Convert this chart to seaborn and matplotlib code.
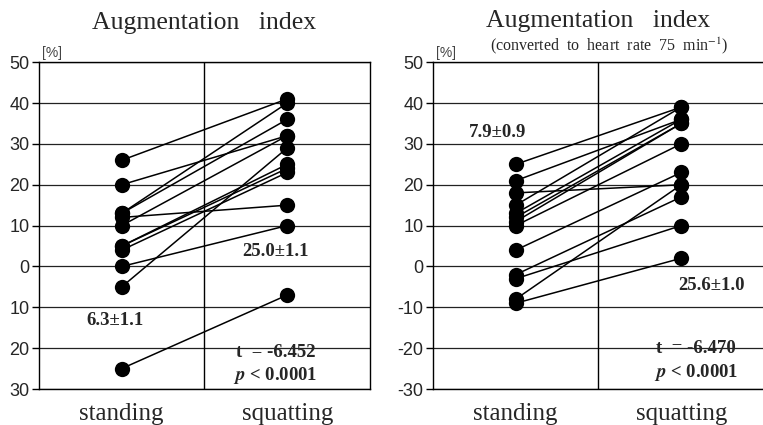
import matplotlib
matplotlib.use('Agg')
import matplotlib.pyplot as plt
import numpy as np
import pandas as pd
import seaborn as sns

# paired values (standing -> squatting)
stand_left = [26, 20, 13, 13, 12, 10, 5, 5, 4, 0, -5, -25]
squat_left = [41, 32, 40, 36, 15, 32, 25, 24, 23, 10, 29, -7]
stand_right = [25, 21, 18, 15, 13, 12, 11, 10, 4, -2, -3, -8, -9]
squat_right = [39, 36, 20, 39, 36, 35, 35, 30, 23, 17, 10, 20, 2]

categories = ['standing', 'squatting']
yticks = [50, 40, 30, 20, 10, 0, -10, -20, -30]
ylabels_left = ['50', '40', '30', '20', '10', '0', '10', '20', '30']
ylabels_right = ['50', '40', '30', '20', '10', '0', '-10', '-20', '-30']


def to_long(stand, squat):
    n = len(stand)
    return pd.DataFrame({
        'subject': list(range(n)) * 2,
        'pos': [0] * n + [1] * n,
        'value': list(stand) + list(squat),
    })


sns.set_style('white')
plt.rcParams['font.family'] = ['Liberation Serif', 'DejaVu Serif']
plt.rcParams['mathtext.fontset'] = 'stix'
plt.rcParams['axes.unicode_minus'] = False

fig = plt.figure(figsize=(7.63, 4.25), dpi=100)
axL = fig.add_axes([0.0511, 0.0847, 0.4338, 0.769])
axR = fig.add_axes([0.5675, 0.0847, 0.4338, 0.769])

for ax, st, sq, ylab in [(axL, stand_left, squat_left, ylabels_left),
                         (axR, stand_right, squat_right, ylabels_right)]:
    df = to_long(st, sq)
    for y in yticks:
        ax.axhline(y, color='#222222', lw=0.9, zorder=1)
    ax.axvline(0.5, color='black', lw=1.0, zorder=1)
    sns.lineplot(data=df, x='pos', y='value', units='subject', estimator=None,
                 color='black', lw=1.1, marker='o', markersize=11,
                 markeredgewidth=0, ax=ax, legend=False, zorder=3)
    ax.set_xlim(-0.5, 1.5)
    ax.set_ylim(-30, 50)
    ax.set_yticks(yticks)
    ax.set_yticklabels(ylab, family='Liberation Sans', fontsize=13)
    ax.set_xticks([0, 1])
    ax.set_xticklabels(categories, fontsize=18)
    ax.tick_params(axis='x', length=0, pad=10)
    ax.tick_params(axis='y', length=5, width=1, direction='out', color='black', pad=2, left=True)
    ax.set_xlabel('')
    ax.set_ylabel('')
    for s in ax.spines.values():
        s.set_visible(True)
        s.set_color('black')
        s.set_linewidth(1.0)
    ax.text(0.01, 1.008, '[%]', transform=ax.transAxes, family='Liberation Sans',
            fontsize=10, color='#444444', ha='left', va='bottom')

bold = dict(fontweight='bold', fontsize=13.5, ha='center', va='center')
axL.text(-0.04, -13.2, '6.3\u00b11.1', **bold)
axL.text(0.93, 3.6, '25.0\u00b11.1', **bold)
axL.text(0.93, -21.0, 't  = -6.452', **bold)
axL.text(0.93, -26.8, r'$\mathbfit{p}$ < 0.0001', **bold)

axR.text(-0.11, 32.8, '7.9\u00b10.9', **bold)
axR.text(1.18, -4.7, '25.6\u00b11.0', **bold)
axR.text(1.09, -20.0, 't  = -6.470', **bold)
axR.text(1.09, -26.0, r'$\mathbfit{p}$ < 0.0001', **bold)

fig.text(0.2675, 0.945, 'Augmentation   index', ha='center', va='center', fontsize=18.5)
fig.text(0.7844, 0.950, 'Augmentation   index', ha='center', va='center', fontsize=18.5)
fig.text(0.7990, 0.893, r'(converted  to  heart  rate  75  min$^{-1}$)',
         ha='center', va='center', fontsize=11.5)

fig.savefig('out.png', dpi=100)
